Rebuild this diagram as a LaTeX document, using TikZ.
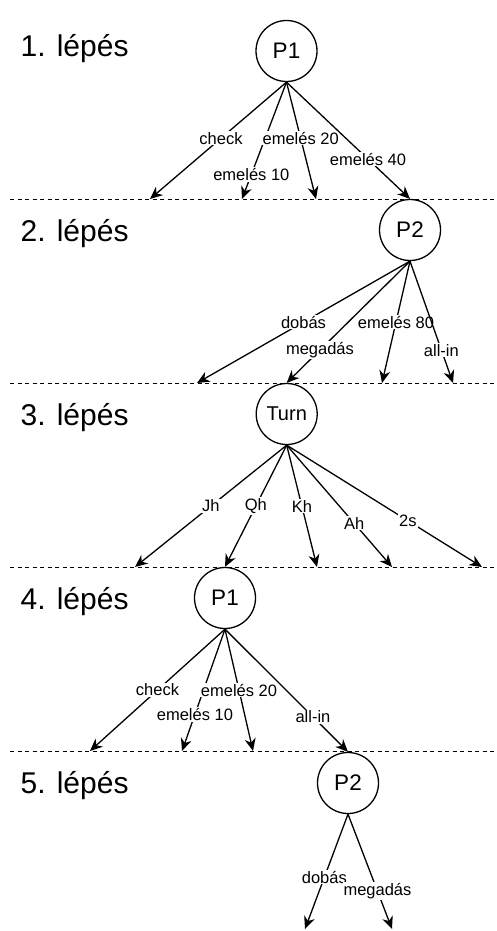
\documentclass[tikz,border=0pt]{standalone}
\usepackage{fontspec}
\setmainfont{Liberation Sans}
\usetikzlibrary{arrows.meta}
\begin{document}
\begin{tikzpicture}[x=1pt,y=-1pt,
  state/.style={circle, draw, line width=1.3pt, minimum size=61pt, inner sep=0pt,
                font=\fontsize{22.5}{26}\selectfont},
  move/.style={line width=1.3pt, -{Stealth[length=12.5pt,width=11pt,inset=4pt]}},
  lbl/.style={fill=white, inner sep=1pt, font=\fontsize{16.5}{19}\selectfont},
  steplabel/.style={anchor=base west, inner sep=0pt, font=\fontsize{30}{34}\selectfont},
  divider/.style={line width=1pt, dash pattern=on 4pt off 3.5pt}
]
\useasboundingbox (0,0) rectangle (496,931);

% step titles
\node[steplabel] (s1) at (20.5,57)  {1. lépés};
\node[steplabel] (s2) at (20.5,241) {2. lépés};
\node[steplabel] (s3) at (20.5,425) {3. lépés};
\node[steplabel] (s4) at (20.5,609) {4. lépés};
\node[steplabel] (s5) at (20.5,793) {5. lépés};

% separators between the steps
\draw[divider] (10,199)   -- (496,199);
\draw[divider] (10,383)   -- (496,383);
\draw[divider] (10,567)   -- (496,567);
\draw[divider] (10,751.5) -- (496,751.5);

% decision nodes
\node[state] (pA) at (286.5,51) {P1};
\node[state] (pB) at (410,230) {P2};
\node[state, font=\fontsize{20}{24}\selectfont] (turn) at (286.7,414) {Turn};
\node[state] (pC) at (225,598) {P1};
\node[state] (pD) at (348,783) {P2};

% open ends of the branches
\coordinate (a1) at (150,199);
\coordinate (a2) at (242,199);
\coordinate (a3) at (316,199);
\coordinate (b1) at (197,383);
\coordinate (b3) at (382,383);
\coordinate (b4) at (453,383);
\coordinate (c1) at (135,567);
\coordinate (c3) at (317,567);
\coordinate (c4) at (392,567);
\coordinate (c5) at (482,567);
\coordinate (d1) at (90,751);
\coordinate (d2) at (182,751);
\coordinate (d3) at (253,751);
\coordinate (e1) at (305,929);
\coordinate (e2) at (392,929);

% step 1
\draw[move] (pA.south) -- node[lbl, pos=0.48] {check} (a1);
\draw[move] (pA.south) -- node[lbl, pos=0.79] {emelés 10} (a2);
\draw[move] (pA.south) -- node[lbl, pos=0.48] {emelés 20} (a3);
\draw[move] (pA.south) -- node[lbl, pos=0.66] {emelés 40} (pB.north);

% step 2
\draw[move] (pB.south) -- node[lbl, pos=0.5]  {dobás} (b1);
\draw[move] (pB.south) -- node[lbl, pos=0.73] {megadás} (turn.north);
\draw[move] (pB.south) -- node[lbl, pos=0.5]  {emelés 80} (b3);
\draw[move] (pB.south) -- node[lbl, pos=0.73] {all-in} (b4);

% step 3
\draw[move] (turn.south) -- node[lbl, pos=0.5]  {Jh} (c1);
\draw[move] (turn.south) -- node[lbl, pos=0.5]  {Qh} (pC.north);
\draw[move] (turn.south) -- node[lbl, pos=0.5]  {Kh} (c3);
\draw[move] (turn.south) -- node[lbl, pos=0.64] {Ah} (c4);
\draw[move] (turn.south) -- node[lbl, pos=0.62] {2s} (c5);

% step 4
\draw[move] (pC.south) -- node[lbl, pos=0.5]   {check} (d1);
\draw[move] (pC.south) -- node[lbl, pos=0.7]   {emelés 10} (d2);
\draw[move] (pC.south) -- node[lbl, pos=0.5]   {emelés 20} (d3);
\draw[move] (pC.south) -- node[lbl, pos=0.715] {all-in} (pD.north);

% step 5
\draw[move] (pD.south) -- node[lbl, pos=0.55] {dobás} (e1);
\draw[move] (pD.south) -- node[lbl, pos=0.67] {megadás} (e2);
\end{tikzpicture}
\end{document}
